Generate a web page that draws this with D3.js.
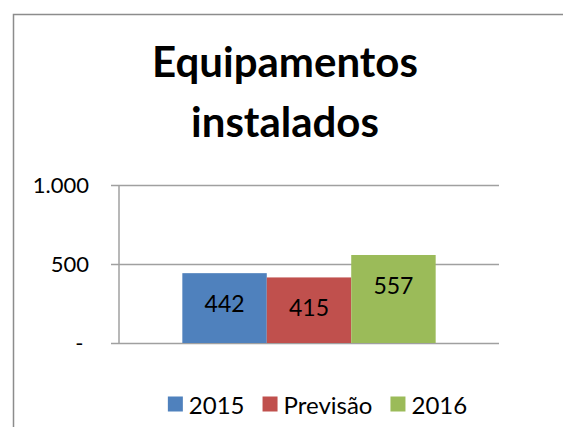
<!DOCTYPE html>
<html>
<head>
<meta charset="utf-8">
<script src="https://cdn.jsdelivr.net/npm/d3@7"></script>
<style>
    html, body { margin: 0; background: #fff; overflow: hidden; }
    svg { display: block; }
</style>
</head>
<body>
<div id="bar-chart"><svg></svg></div>
<script>
var categories = [""];
var series = ["2015", "Previsão", "2016"];
var values = [442, 415, 557];
var colors = ["#4F81BD", "#C0504D", "#9BBB59"];
var yTicks = [0, 500, 1000];
var titleLines = ["Equipamentos", "instalados"];

var W = 563, H = 427;
var plot = {left: 119, right: 499, top: 185, bottom: 343};
var font = "Lato, 'Noto Sans', sans-serif";

var pt = d3.formatLocale({decimal: ",", thousands: ".", grouping: [3], currency: ["R$", ""]});
var fmt = pt.format(",d");

var svg = d3.select("#bar-chart").select("svg")
    .attr("width", W)
    .attr("height", H);

// chart frame: only the left and top edges are inside the picture
svg.append("path")
    .attr("d", "M13.5," + H + "V14.5H" + W)
    .attr("fill", "none")
    .attr("stroke", "#8c8c8c")
    .attr("stroke-width", 1.5);

// title
svg.append("g").selectAll("text")
    .data(titleLines)
    .enter()
    .append("text")
    .attr("x", 285)
    .attr("y", function (d, i) { return 77 + i * 60; })
    .attr("text-anchor", "middle")
    .style("font-family", font)
    .style("font-weight", "bold")
    .style("font-size", "42px")
    .text(function (d) { return d; });

var y = d3.scaleLinear()
    .domain([0, 1000])
    .range([plot.bottom, plot.top]);

var x = d3.scaleBand()
    .domain(categories)
    .range([plot.left, plot.right])
    .paddingInner(1 / 3)
    .paddingOuter(1 / 6);

var xs = d3.scaleBand()
    .domain(series)
    .range([0, x.bandwidth()])
    .padding(0);

// gridlines + tick labels
var yAxis = d3.axisLeft(y)
    .tickValues(yTicks)
    .tickSize(0)
    .tickPadding(22)
    .tickFormat(function (d) { return d === 0 ? "-\u00a0" : fmt(d); });

var gy = svg.append("g")
    .attr("transform", "translate(" + (plot.left - 8) + ",0)")
    .call(yAxis);
gy.select(".domain").remove();
gy.selectAll(".tick line")
    .attr("x1", 0)
    .attr("x2", plot.right - plot.left + 8)
    .attr("stroke", "#a0a0a0")
    .attr("stroke-width", 1.5);
gy.selectAll(".tick text")
    .attr("fill", "#000")
    .style("font-family", font)
    .style("font-size", "22px");

svg.append("line")
    .attr("x1", plot.left)
    .attr("x2", plot.left)
    .attr("y1", y(1000))
    .attr("y2", y(0))
    .attr("stroke", "#a0a0a0")
    .attr("stroke-width", 1.5);

// bars
var bars = svg.append("g")
    .attr("transform", "translate(" + x(categories[0]) + ",0)");

bars.selectAll("rect")
    .data(values)
    .enter()
    .append("rect")
    .attr("x", function (d, i) { return xs(series[i]); })
    .attr("y", function (d) { return y(d); })
    .attr("width", xs.bandwidth())
    .attr("height", function (d) { return y(0) - y(d); })
    .attr("fill", function (d, i) { return colors[i]; });

bars.selectAll("text")
    .data(values)
    .enter()
    .append("text")
    .attr("x", function (d, i) { return xs(series[i]) + xs.bandwidth() / 2; })
    .attr("y", function (d) { return y(d) + 30; })
    .attr("text-anchor", "middle")
    .attr("dominant-baseline", "central")
    .style("font-family", font)
    .style("font-size", "23px")
    .text(function (d) { return fmt(d); });

// legend
var legend = svg.append("g");
var items = legend.selectAll("g")
    .data(series)
    .enter()
    .append("g");
items.append("rect")
    .attr("width", 15)
    .attr("height", 15)
    .attr("y", -7.5)
    .attr("fill", function (d, i) { return colors[i]; });
items.append("text")
    .attr("x", 21)
    .attr("dominant-baseline", "central")
    .style("font-family", font)
    .style("font-size", "24px")
    .text(function (d) { return d; });

var pos = 0;
items.each(function () {
    var w = 21 + d3.select(this).select("text").node().getComputedTextLength();
    d3.select(this).attr("transform", "translate(" + pos + ",0)");
    pos += w + 18;
});
var total = pos - 18;
legend.attr("transform", "translate(" + (317.5 - total / 2) + ",404)");
</script>
</body>
</html>
